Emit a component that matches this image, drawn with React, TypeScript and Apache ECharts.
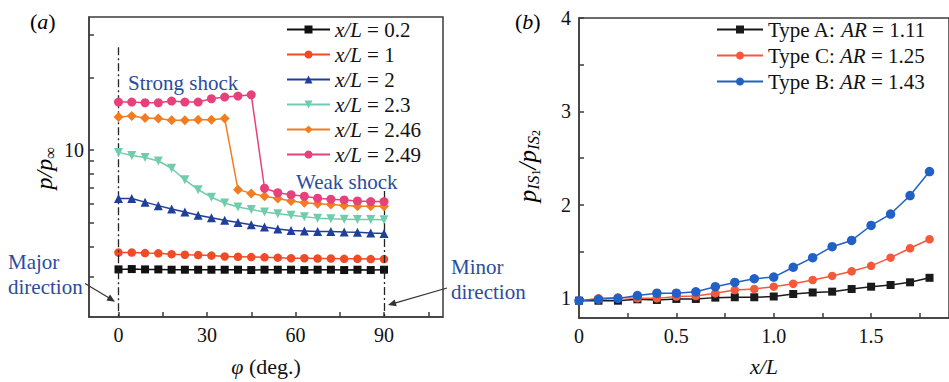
import React, { useEffect, useRef } from 'react';
import * as echarts from 'echarts';

// ---- (a) wall pressure around the circumference ----
const PHI = [0, 4.5, 9, 13.5, 18, 22.5, 27, 31.5, 36, 40.5, 45, 49.5, 54, 58.5, 63, 67.5, 72, 76.5, 81, 85.5, 90];
const XL_LEVELS = ['0.2', '1', '2', '2.3', '2.46', '2.49'];
const P_02 = [3.21, 3.22, 3.21, 3.21, 3.2, 3.2, 3.2, 3.2, 3.2, 3.2, 3.19, 3.2, 3.2, 3.2, 3.19, 3.2, 3.2, 3.19, 3.2, 3.19, 3.2];
const P_1 = [3.77, 3.77, 3.75, 3.74, 3.71, 3.69, 3.68, 3.66, 3.63, 3.62, 3.61, 3.6, 3.59, 3.57, 3.57, 3.56, 3.56, 3.55, 3.55, 3.54, 3.54];
const P_2 = [6.3, 6.3, 6.09, 5.89, 5.71, 5.54, 5.38, 5.25, 5.13, 5.02, 4.91, 4.81, 4.72, 4.65, 4.63, 4.61, 4.6, 4.58, 4.57, 4.54, 4.52];
const P_23 = [9.78, 9.49, 9.31, 9.01, 8.41, 7.53, 6.86, 6.38, 6.04, 5.81, 5.68, 5.55, 5.45, 5.38, 5.3, 5.23, 5.2, 5.18, 5.16, 5.16, 5.15];
const P_246 = [13.71, 13.84, 13.58, 13.49, 13.27, 13.27, 13.36, 13.36, 13.49, 6.86, 6.62, 6.44, 6.3, 6.16, 6.06, 6.0, 5.95, 5.9, 5.86, 5.86, 5.86];
const P_249 = [15.79, 15.79, 15.69, 15.69, 15.94, 15.79, 15.79, 16.3, 16.56, 16.72, 16.92, 6.95, 6.66, 6.54, 6.44, 6.32, 6.26, 6.22, 6.16, 6.12, 6.12];
const P_SERIES = [P_02, P_1, P_2, P_23, P_246, P_249];

const A_X_TICKS = [0, 15, 30, 45, 60, 75, 90, 105];
const A_X_LABELS = [0, 30, 60, 90];
const A_Y_TICKS = [3, 4, 5, 6, 7, 8, 9, 10, 20, 30];
const A_Y_LABELS = [10];
const A_Y_MIN = 2.04;
const A_Y_MAX = 35.5;
// upper ends of the dash-dot guides at the major (0°) and minor (90°) directions
const GUIDE_TOP_MAJOR = 26.6;
const GUIDE_TOP_MINOR = 6.77;

// ---- (b) pressure ratio along the inlet ----
const XL = [0, 0.1, 0.2, 0.3, 0.4, 0.5, 0.6, 0.7, 0.8, 0.9, 1.0, 1.1, 1.2, 1.3, 1.4, 1.5, 1.6, 1.7, 1.8];
const TYPE_NAMES = ['Type A: AR = 1.11', 'Type C: AR = 1.25', 'Type B: AR = 1.43'];
const RATIO_A = [0.975, 0.975, 0.975, 0.99, 0.983, 0.994, 0.994, 1.008, 1.012, 1.012, 1.02, 1.047, 1.063, 1.072, 1.1, 1.125, 1.143, 1.172, 1.22];
const RATIO_C = [0.975, 1.0, 1.01, 1.0, 1.0, 1.02, 1.025, 1.055, 1.09, 1.1, 1.125, 1.157, 1.197, 1.24, 1.29, 1.348, 1.436, 1.536, 1.633];
const RATIO_B = [0.975, 0.99, 1.0, 1.03, 1.055, 1.055, 1.07, 1.125, 1.17, 1.21, 1.228, 1.333, 1.436, 1.553, 1.62, 1.78, 1.902, 2.1, 2.357];
const RATIO_SERIES = [RATIO_A, RATIO_C, RATIO_B];

const B_X_TICKS = [0.25, 0.5, 0.75, 1.0, 1.25, 1.5, 1.75];
const B_X_LABELS = [0, 0.5, 1.0, 1.5];
const B_Y_TICKS = [1, 1.5, 2, 2.5, 3, 3.5, 4];
const B_Y_LABELS = [1, 2, 3, 4];

const SERIF = "'Liberation Serif', 'Times New Roman', 'DejaVu Serif', serif";
const AXIS = '#3c3c3c';
const INK = '#111111';
const NOTE_BLUE = '#2b4c9c';

const A_STYLES = [
  { color: '#111111', symbol: 'rect', size: 8, rotate: 0 },
  { color: '#f04a26', symbol: 'circle', size: 8.5, rotate: 0 },
  { color: '#203f98', symbol: 'triangle', size: 9, rotate: 0 },
  { color: '#6fcdab', symbol: 'triangle', size: 9, rotate: 180 },
  { color: '#f27d20', symbol: 'diamond', size: 10, rotate: 0 },
  { color: '#e8407a', symbol: 'circle', size: 9, rotate: 0 },
];
const B_STYLES = [
  { color: '#1a1a1a', symbol: 'rect', size: 8 },
  { color: '#f5583a', symbol: 'circle', size: 8.5 },
  { color: '#2160c4', symbol: 'circle', size: 9.5 },
];

const base = { fontFamily: SERIF, color: INK };
const richCommon = {
  i: { ...base, fontSize: 21, fontStyle: 'italic', lineHeight: 20 },
  n: { ...base, fontSize: 21, lineHeight: 20 },
};

const axisLineStyle = { color: AXIS, width: 1.5 };

function buildOption() {
  const aNames = XL_LEVELS.map((v) => `x/L = ${v}`);

  const aSeries = P_SERIES.map((vals, k) => {
    const st = A_STYLES[k];
    const s: any = {
      name: aNames[k],
      type: 'line',
      xAxisIndex: 0,
      yAxisIndex: 0,
      data: PHI.map((p, i) => [p, vals[i]]),
      symbol: st.symbol,
      symbolSize: st.size,
      symbolRotate: st.rotate,
      showAllSymbol: true,
      lineStyle: { color: st.color, width: 1.5 },
      itemStyle: { color: st.color },
      emphasis: { disabled: true },
      z: 3 + k,
    };
    if (k === 0) {
      s.markLine = {
        silent: true,
        symbol: ['none', 'none'],
        label: { show: false },
        emphasis: { disabled: true },
        lineStyle: { color: '#222', width: 1.3, type: [8, 3, 2, 3] },
        data: [
          [{ coord: [0, GUIDE_TOP_MAJOR] }, { coord: [0, A_Y_MIN] }],
          [{ coord: [90, GUIDE_TOP_MINOR] }, { coord: [90, A_Y_MIN] }],
        ],
      };
    }
    return s;
  });

  const bSeries = RATIO_SERIES.map((vals, k) => {
    const st = B_STYLES[k];
    return {
      name: TYPE_NAMES[k],
      type: 'line',
      xAxisIndex: 1,
      yAxisIndex: 1,
      data: XL.map((x, i) => [x, vals[i]]),
      symbol: st.symbol,
      symbolSize: st.size,
      showAllSymbol: true,
      lineStyle: { color: st.color, width: 1.5 },
      itemStyle: { color: st.color },
      emphasis: { disabled: true },
      z: 3 + k,
    };
  });

  const tickLabel = { fontFamily: SERIF, fontSize: 20, color: INK };

  const noteText = (text: string, x: number, y: number) => ({
    type: 'text',
    x,
    y,
    silent: true,
    style: { text, fontFamily: SERIF, fontSize: 21, fill: NOTE_BLUE, align: 'left', verticalAlign: 'middle' },
  });

  // rotated y-axis titles with sub/superscripts
  const yTitle = (text: string, x: number, y: number, rich: any) => ({
    type: 'text',
    x,
    y,
    rotation: Math.PI / 2,
    silent: true,
    style: { text, align: 'center', verticalAlign: 'middle', rich },
  });

  return {
    animation: false,
    backgroundColor: '#ffffff',
    grid: [
      { left: 89, top: 17, width: 354, height: 303, show: true, borderColor: AXIS, borderWidth: 1.5, backgroundColor: 'transparent' },
      { left: 579, top: 18, width: 385, height: 300, show: true, borderColor: AXIS, borderWidth: 1.5, backgroundColor: 'transparent' },
    ],
    xAxis: [
      {
        gridIndex: 0,
        type: 'value',
        min: -10,
        max: 110,
        axisLine: { show: true, onZero: false, lineStyle: axisLineStyle },
        axisTick: { show: true, inside: true, length: 5, customValues: A_X_TICKS, lineStyle: axisLineStyle },
        axisLabel: { ...tickLabel, margin: 8, customValues: A_X_LABELS },
        splitLine: { show: false },
        name: '{i|φ}{n| (deg.)}',
        nameLocation: 'middle',
        nameGap: 37,
        nameTextStyle: {
          ...base,
          fontSize: 22,
          rich: {
            i: { ...base, fontSize: 22, fontStyle: 'italic', lineHeight: 24 },
            n: { ...base, fontSize: 22, lineHeight: 24 },
          },
        },
      },
      {
        gridIndex: 1,
        type: 'value',
        min: 0,
        max: 1.9,
        axisLine: { show: true, onZero: false, lineStyle: axisLineStyle },
        axisTick: { show: true, inside: true, length: 5, customValues: B_X_TICKS, lineStyle: axisLineStyle },
        axisLabel: {
          ...tickLabel,
          margin: 8,
          customValues: B_X_LABELS,
          formatter: (v: number) => (v === 0 ? '0' : v.toFixed(1)),
        },
        splitLine: { show: false },
        name: '{i|x/L}',
        nameLocation: 'middle',
        nameGap: 36,
        nameTextStyle: {
          ...base,
          fontSize: 22,
          rich: { i: { ...base, fontSize: 22, fontStyle: 'italic', lineHeight: 24 } },
        },
      },
    ],
    yAxis: [
      {
        gridIndex: 0,
        type: 'log',
        logBase: 10,
        min: A_Y_MIN,
        max: A_Y_MAX,
        axisLine: { show: true, onZero: false, lineStyle: axisLineStyle },
        axisTick: { show: true, inside: true, length: 5, customValues: A_Y_TICKS, lineStyle: axisLineStyle },
        axisLabel: { ...tickLabel, margin: 5, customValues: A_Y_LABELS },
        splitLine: { show: false },
        minorTick: { show: false },
      },
      {
        gridIndex: 1,
        type: 'value',
        min: 0.79,
        max: 4,
        axisLine: { show: true, onZero: false, lineStyle: axisLineStyle },
        axisTick: { show: true, inside: true, length: 5, customValues: B_Y_TICKS, lineStyle: axisLineStyle },
        axisLabel: { ...tickLabel, margin: 8, customValues: B_Y_LABELS },
        splitLine: { show: false },
      },
    ],
    legend: [
      {
        data: aNames,
        orient: 'vertical',
        left: 281,
        top: 14,
        itemWidth: 43,
        itemHeight: 10,
        itemGap: 4,
        selectedMode: false,
        formatter: (name: string) => name.replace('x/L', '{i|x/L}').replace(/ = (.*)$/, '{n| = $1}'),
        textStyle: { ...base, fontSize: 21, lineHeight: 20, rich: richCommon },
      },
      {
        data: TYPE_NAMES,
        orient: 'vertical',
        left: 711,
        top: 14,
        itemWidth: 46,
        itemHeight: 10,
        itemGap: 5,
        selectedMode: false,
        formatter: (name: string) => {
          const [head, tail] = name.split(': AR');
          return `{n|${head}: }{i|AR}{n|${tail}}`;
        },
        textStyle: { ...base, fontSize: 21, lineHeight: 20, rich: richCommon },
      },
    ],
    graphic: [
      {
        type: 'text',
        x: 30,
        y: 21,
        silent: true,
        style: {
          text: '{n|(}{i|a}{n|)}',
          verticalAlign: 'middle',
          rich: {
            i: { ...base, fontSize: 22, fontStyle: 'italic' },
            n: { ...base, fontSize: 22 },
          },
        },
      },
      {
        type: 'text',
        x: 515,
        y: 21,
        silent: true,
        style: {
          text: '{n|(}{i|b}{n|)}',
          verticalAlign: 'middle',
          rich: {
            i: { ...base, fontSize: 22, fontStyle: 'italic' },
            n: { ...base, fontSize: 22 },
          },
        },
      },
      yTitle('{i|p/p}{s|∞}', 44, 168, {
        i: { ...base, fontSize: 24, fontStyle: 'italic', lineHeight: 30 },
        s: { ...base, fontSize: 17, lineHeight: 18, verticalAlign: 'bottom' },
      }),
      yTitle('{i|p}{s|IS}{ss|1}{i|/p}{s|IS}{ss|2}', 527, 166, {
        i: { ...base, fontSize: 25, fontStyle: 'italic', lineHeight: 30 },
        s: { ...base, fontSize: 17, fontStyle: 'italic', lineHeight: 18, verticalAlign: 'bottom' },
        ss: { ...base, fontSize: 12, lineHeight: 12, verticalAlign: 'bottom' },
      }),
      noteText('Strong shock', 128, 83),
      noteText('Weak shock', 296, 182),
      noteText('Major', 8, 262),
      noteText('direction', 8, 287),
      noteText('Minor', 451, 267),
      noteText('direction', 451, 292),
      // arrow toward the major direction
      { type: 'line', silent: true, shape: { x1: 85, y1: 283.5, x2: 110, y2: 298.6 }, style: { stroke: '#333', lineWidth: 1.2 } },
      { type: 'polygon', silent: true, shape: { points: [[115, 301.7], [106.4, 300.5], [110.0, 294.5]] }, style: { fill: '#333' } },
      // arrow toward the minor direction
      { type: 'line', silent: true, shape: { x1: 447, y1: 288, x2: 394, y2: 303.3 }, style: { stroke: '#333', lineWidth: 1.2 } },
      { type: 'polygon', silent: true, shape: { points: [[388, 305], [394.7, 299.4], [396.7, 306.2]] }, style: { fill: '#333' } },
    ],
    series: [...aSeries, ...bSeries],
  };
}

export default function App() {
  const ref = useRef<HTMLDivElement>(null);

  useEffect(() => {
    if (!ref.current) return;
    const chart = echarts.init(ref.current, null, { renderer: 'svg' });
    chart.setOption(buildOption() as any);
    return () => chart.dispose();
  }, []);

  return (
    <div
      ref={ref}
      style={{ position: 'fixed', left: 0, top: 0, width: 949, height: 382, background: '#ffffff' }}
    />
  );
}
